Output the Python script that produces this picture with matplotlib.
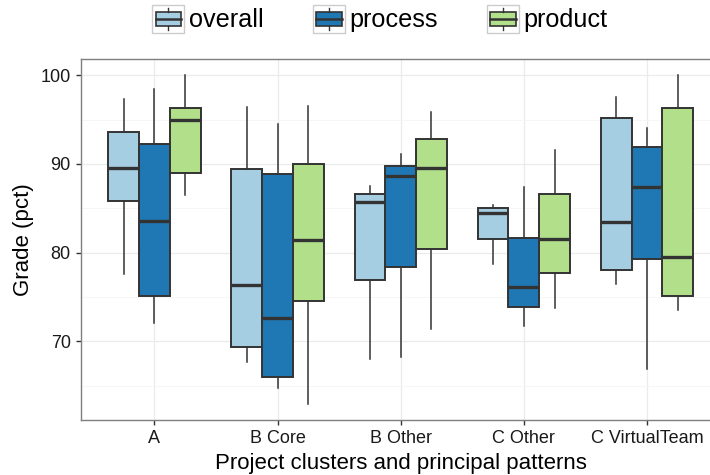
import numpy as np
import matplotlib
matplotlib.use('Agg')
import matplotlib.pyplot as plt
from matplotlib.legend_handler import HandlerBase
from matplotlib.patches import Rectangle, Patch
from matplotlib.lines import Line2D

plt.rcParams['font.family'] = ['Liberation Sans', 'DejaVu Sans']

categories = ['A', 'B Core', 'B Other', 'C Other', 'C VirtualTeam']
series = ['overall', 'process', 'product']
colors = ['#a6cee3', '#1f78b4', '#b2df8a']

# per category: [whisker low, q1, median, q3, whisker high]
overall = [[77.6, 85.8, 89.6, 93.6, 97.3],
           [67.7, 69.4, 76.4, 89.4, 96.4],
           [68.0, 76.9, 85.7, 86.6, 87.5],
           [78.7, 81.6, 84.5, 85.0, 85.4],
           [76.5, 78.1, 83.5, 95.2, 97.6]]
process = [[72.1, 75.1, 83.6, 92.3, 98.4],
           [64.8, 66.0, 72.7, 88.9, 94.5],
           [68.3, 78.4, 88.6, 89.8, 91.1],
           [71.7, 73.9, 76.1, 81.7, 87.4],
           [66.9, 79.3, 87.4, 91.9, 94.0]]
product = [[86.5, 89.0, 95.0, 96.3, 100.0],
           [63.0, 74.6, 81.4, 90.0, 96.5],
           [71.4, 80.4, 89.6, 92.8, 95.9],
           [73.8, 77.7, 81.5, 86.6, 91.6],
           [73.5, 75.1, 79.5, 96.3, 100.0]]
all_stats = [overall, process, product]

edge = '#333333'

fig = plt.figure(figsize=(7.1, 4.75), dpi=100)
ax = fig.add_axes([0.1135, 0.1158, 0.9017, 0.7594])

x = np.arange(1, len(categories) + 1)
offsets = [-0.25, 0.0, 0.25]
for stats, col, off in zip(all_stats, colors, offsets):
    bxp_stats = [dict(whislo=s[0], q1=s[1], med=s[2], q3=s[3], whishi=s[4], fliers=[])
                 for s in stats]
    ax.bxp(bxp_stats, positions=x + off, widths=0.25, patch_artist=True,
           showfliers=False, showcaps=False,
           boxprops=dict(facecolor=col, edgecolor=edge, linewidth=1.4),
           whiskerprops=dict(color=edge, linewidth=1.1),
           medianprops=dict(color=edge, linewidth=2.4, solid_capstyle='butt'),
           manage_ticks=False, zorder=3)

ax.set_xlim(0.4, 5.6)
ax.set_ylim(61.15, 101.8)
ax.set_xticks(x)
ax.set_xticklabels(categories)
ax.set_yticks([70, 80, 90, 100])
ax.set_yticks([65, 75, 85, 95], minor=True)
ax.grid(True, which='major', color='#ebebeb', linewidth=0.9, zorder=0)
ax.grid(True, which='minor', axis='y', color='#f5f5f5', linewidth=0.6, zorder=0)
ax.set_axisbelow(True)
ax.tick_params(axis='both', which='major', length=3.5, width=1.0, color='#333333',
               labelsize=13, labelcolor='#1a1a1a', pad=3.5)
ax.tick_params(axis='y', which='minor', length=0)
for sp in ax.spines.values():
    sp.set_color('#7f7f7f')
    sp.set_linewidth(1.0)

ax.set_xlabel('Project clusters and principal patterns', fontsize=16, labelpad=4.5)
ax.set_ylabel('Grade (pct)', fontsize=16, labelpad=5)


class BoxHandler(HandlerBase):
    def create_artists(self, legend, orig_handle, xdescent, ydescent,
                       width, height, fontsize, trans):
        x0, y0 = -xdescent, -ydescent
        fc = orig_handle.get_facecolor()
        key = Rectangle((x0, y0), width, height, facecolor='white',
                        edgecolor='#cccccc', linewidth=1.0, transform=trans)
        cx = x0 + width / 2
        box = Rectangle((x0 + 0.1 * width, y0 + 0.25 * height), 0.8 * width,
                        0.5 * height, facecolor=fc, edgecolor=edge,
                        linewidth=1.2, transform=trans)
        w1 = Line2D([cx, cx], [y0 + 0.1 * height, y0 + 0.25 * height],
                    color=edge, linewidth=1.0, transform=trans)
        w2 = Line2D([cx, cx], [y0 + 0.75 * height, y0 + 0.9 * height],
                    color=edge, linewidth=1.0, transform=trans)
        med = Line2D([x0 + 0.1 * width, x0 + 0.9 * width],
                     [y0 + 0.5 * height, y0 + 0.5 * height],
                     color=edge, linewidth=1.8, transform=trans)
        return [key, box, w1, w2, med]


handles = [Patch(facecolor=c) for c in colors]
fig.legend(handles, series, loc='upper center', bbox_to_anchor=(380 / 710, 0.992),
           ncol=3, frameon=False, fontsize=18.2, handlelength=1.26,
           handleheight=1.3, handletextpad=0.18, columnspacing=1.95,
           borderpad=0.05, borderaxespad=0.0, handler_map={Patch: BoxHandler()})

fig.savefig('out.png', dpi=100)
